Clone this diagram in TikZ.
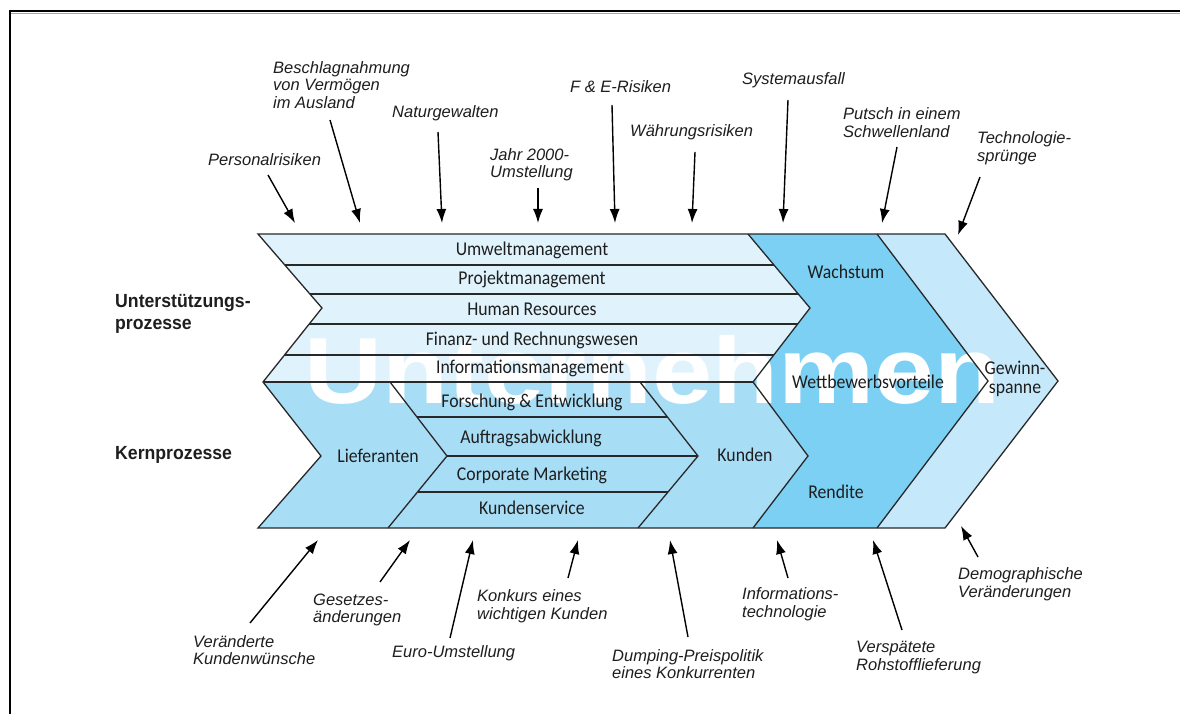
\documentclass[tikz,border=0pt]{standalone}
\usepackage{fontspec}
\setmainfont{Carlito}[FakeStretch=0.91]
\newfontfamily\lsans{Liberation Sans}
\newfontfamily\headfont{Liberation Sans}[FakeStretch=0.93]
\newfontfamily\wmfont{Liberation Sans}[FakeStretch=1.15]
\usetikzlibrary{arrows.meta}
\definecolor{supc}{RGB}{224,243,252}
\definecolor{corec}{RGB}{168,221,246}
\definecolor{darkc}{RGB}{124,208,244}
\definecolor{gewc}{RGB}{197,232,250}
\definecolor{linec}{RGB}{40,40,40}
\definecolor{txtc}{RGB}{30,30,30}
\tikzset{
  boxlab/.style={inner sep=0, text=txtc, align=center, font=\fontsize{19.5}{19}\selectfont},
  risk/.style={inner sep=0, anchor=west, align=left, text=txtc, font=\lsans\itshape\fontsize{16.5}{17.5}\selectfont},
  riskarrow/.style={draw=black, line width=1.4pt, -{Latex[length=14pt,width=10pt]}},
  edgeline/.style={draw=linec, line width=1.3pt, line join=miter},
  heading/.style={inner sep=0, anchor=west, align=left, text=txtc, font=\headfont\bfseries\fontsize{19}{22}\selectfont},
}
\begin{document}
\begin{tikzpicture}[x=1pt,y=-1pt]
\useasboundingbox (0,0) rectangle (1180,714);
\fill[white] (0,0) rectangle (1180,714);
% frame
\draw[black, line width=2pt] (10,714) -- (10,11) -- (1180,11);
\draw[gray!70, line width=1.5pt] (11,13.5) -- (1180,13.5);

% fills
\fill[supc] (258,234) -- (748,234) -- (810,308) -- (753,382) -- (263,382) -- (322,308) -- cycle;
\fill[corec] (263,382) -- (753,382) -- (808,456) -- (753,528) -- (258,528) -- (321,456) -- cycle;
\fill[darkc] (748,234) -- (877,234) -- (988,381) -- (877,528) -- (753,528) -- (808,456) -- (753,382) -- (810,308) -- cycle;
\fill[gewc] (877,234) -- (945,234) -- (1058,381) -- (945,528) -- (877,528) -- (988,381) -- cycle;

% watermark
\node[anchor=base west, inner sep=0, text=white, font=\wmfont\bfseries\fontsize{94}{94}\selectfont] (wm) at (304,403) {Unternehmen};

% outlines
\draw[edgeline] (258,234) -- (945,234) -- (1058,381) -- (945,528) -- (258,528) -- (321,456) -- (263,382) -- (322,308) -- cycle;
\draw[edgeline] (263,382) -- (753,382);
\draw[edgeline] (748,234) -- (810,308) -- (753,382) -- (808,456) -- (753,528);
\draw[edgeline] (877,234) -- (988,381) -- (877,528);
\draw[edgeline] (390,382) -- (447,456) -- (388,528);
\draw[edgeline] (640,382) -- (698,456) -- (638,528);
% support rows
\draw[edgeline] (285,265) -- (774,265);
\draw[edgeline] (310,294) -- (798,294);
\draw[edgeline] (309,324) -- (797.7,324);
\draw[edgeline] (284.5,355) -- (773.8,355);
% core rows
\draw[edgeline] (417,417) -- (667,417);
\draw[edgeline] (447,456) -- (698,456);
\draw[edgeline] (417.5,492) -- (668,492);

% box labels
\node[boxlab] (umw) at (532,250) {Umweltmanagement};
\node[boxlab] (proj) at (532,279) {Projektmanagement};
\node[boxlab] (hr) at (532,309) {Human Resources};
\node[boxlab] (fin) at (532,340) {Finanz- und Rechnungswesen};
\node[boxlab] (info) at (530,368) {Informationsmanagement};
\node[boxlab] (fue) at (532,402) {Forschung \& Entwicklung};
\node[boxlab] (auf) at (531,438) {Auftragsabwicklung};
\node[boxlab] (cm) at (532,475) {Corporate Marketing};
\node[boxlab] (ks) at (532,508) {Kundenservice};
\node[boxlab] (lief) at (378,456) {Lieferanten};
\node[boxlab] (kund) at (745,455) {Kunden};
\node[boxlab] (wachs) at (846,272) {Wachstum};
\node[boxlab] (wett) at (868,382) {Wettbewerbsvorteile};
\node[boxlab] (rend) at (836,492) {Rendite};
\node[boxlab] (gew) at (1015,379) {Gewinn-\\spanne};

% headings
\node[heading] (unt) at (115,314) {Unterstützungs-\\prozesse};
\node[heading] (kern) at (115,455) {Kernprozesse};

% top risks
\node[risk] (r1) at (208,160) {Personalrisiken};
\node[risk] (r2) at (273,85) {Beschlagnahmung\\von Vermögen\\im Ausland};
\node[risk] (r3) at (392,113) {Naturgewalten};
\node[risk] (r4) at (490,164.5) {Jahr 2000-\\Umstellung};
\node[risk] (r5) at (570,87) {F \& E-Risiken};
\node[risk] (r6) at (630,132) {Währungsrisiken};
\node[risk] (r7) at (742,80) {Systemausfall};
\node[risk] (r8) at (843,122.5) {Putsch in einem\\Schwellenland};
\node[risk] (r9) at (977,148) {Technologie-\\sprünge};
% bottom risks
\node[risk] (b1) at (193,650) {Veränderte\\Kundenwünsche};
\node[risk] (b2) at (313,610) {Gesetzes-\\änderungen};
\node[risk] (b3) at (392,653) {Euro-Umstellung};
\node[risk] (b4) at (477,606) {Konkurs eines\\wichtigen Kunden};
\node[risk] (b5) at (612,664) {Dumping-Preispolitik\\eines Konkurrenten};
\node[risk] (b6) at (742,604) {Informations-\\technologie};
\node[risk] (b7) at (856,657.5) {Verspätete\\Rohstofflieferung};
\node[risk] (b8) at (958,584) {Demographische\\Veränderungen};

% arrow coordinates
\coordinate (r1s) at (268,175); \coordinate (r1t) at (295,223);
\coordinate (r2s) at (330,120); \coordinate (r2t) at (360,223);
\coordinate (r3s) at (438,132); \coordinate (r3t) at (442,223);
\coordinate (r4s) at (538,188); \coordinate (r4t) at (538,223);
\coordinate (r5s) at (612,105); \coordinate (r5t) at (615,223);
\coordinate (r6s) at (695,152); \coordinate (r6t) at (692,223);
\coordinate (r7s) at (788,100); \coordinate (r7t) at (783,223);
\coordinate (r8s) at (897,147); \coordinate (r8t) at (882,223);
\coordinate (r9s) at (980,177); \coordinate (r9t) at (958,235);
\coordinate (b1s) at (250,623); \coordinate (b1t) at (318,540);
\coordinate (b2s) at (380,582); \coordinate (b2t) at (410,540);
\coordinate (b3s) at (450,638); \coordinate (b3t) at (473,540);
\coordinate (b4s) at (568,578); \coordinate (b4t) at (578,540);
\coordinate (b5s) at (688,637); \coordinate (b5t) at (670,540);
\coordinate (b6s) at (788,578); \coordinate (b6t) at (777,540);
\coordinate (b7s) at (902,630); \coordinate (b7t) at (873,540);
\coordinate (b8s) at (978,557); \coordinate (b8t) at (961,526);
\foreach \a in {r1,r2,r3,r4,r5,r6,r7,r8,r9,b1,b2,b3,b4,b5,b6,b7,b8}
  \draw[riskarrow] (\a s) -- (\a t);
\end{tikzpicture}
\end{document}
